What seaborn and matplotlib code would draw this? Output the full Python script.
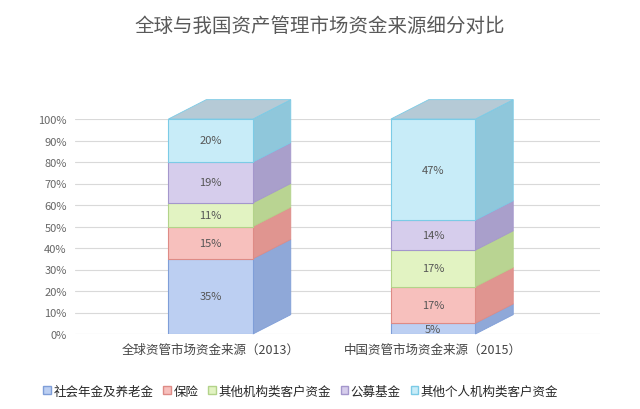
import matplotlib
matplotlib.use("Agg")
import matplotlib.pyplot as plt
import seaborn as sns
import pandas as pd

categories = ["全球资管市场资金来源（2013）", "中国资管市场资金来源（2015）"]
series = ["社会年金及养老金", "保险", "其他机构类客户资金", "公募基金", "其他个人机构类客户资金"]
global_vals = [35, 15, 11, 19, 20]
china_vals = [5, 17, 17, 14, 47]
colors = ["#bccff2", "#f7c0bd", "#e2f3c2", "#d6cdec", "#c8ecf8"]
edges = ["#7f9ed8", "#de8b86", "#b3d38a", "#a497cc", "#7ccbe6"]
sides = ["#8fa8d8", "#e09590", "#b9d492", "#a99fcb", "#8fc7db"]
DX, DY, W = 0.17, 0.09, 0.38

sns.set_theme(style="white")
plt.rcParams["font.family"] = ["Noto Sans CJK SC", "DejaVu Sans"]

fig = plt.figure(figsize=(6.4, 4.1), dpi=100)
ax = fig.add_axes([75 / 640, 75 / 410, 525 / 640, 215 / 410])

df = pd.DataFrame({"cat": categories * len(series),
                   "series": [s for s in series for _ in categories],
                   "val": [v for pair in zip(global_vals, china_vals) for v in pair]})

bottom = [0, 0]
for i, s in enumerate(series):
    sub = df[df["series"] == s]
    vals = [v / 100 for v in sub["val"]]
    sns.barplot(x=[0, 1], y=vals, bottom=bottom, color=colors[i], edgecolor=edges[i],
                linewidth=0.8, width=W, ax=ax, native_scale=True, saturation=1, zorder=3)
    for x, v, b in zip([0, 1], vals, bottom):
        r = x + W / 2
        ax.fill([r, r + DX, r + DX, r], [b, b + DY, b + v + DY, b + v],
                color=sides[i], ec=edges[i], lw=0.6, zorder=2, clip_on=False)
        ax.text(x, b + v / 2, f"{int(round(v * 100))}%", ha="center", va="center",
                fontsize=8, color="#555555", zorder=4)
    bottom = [b + v for b, v in zip(bottom, vals)]

# top faces
for x, b in zip([0, 1], bottom):
    l, r = x - W / 2, x + W / 2
    ax.fill([l, r, r + DX, l + DX], [b, b, b + DY, b + DY], color="#b5cad6",
            ec="#7ccbe6", lw=0.6, zorder=2, clip_on=False)

ax.set_xlim(-0.61, 1.75)
ax.set_ylim(0, 1.0)
ax.set_yticks([i / 10 for i in range(11)])
ax.set_yticklabels([f"{i * 10}%" for i in range(11)], fontsize=8, color="#666666")
ax.set_xticks([0, 1])
ax.set_xticklabels(categories, fontsize=9, color="#444444")
ax.tick_params(axis="both", length=0, pad=6)
ax.yaxis.grid(True, color="#d9d9d9", linewidth=0.8)
ax.set_axisbelow(True)
for sp in ax.spines.values():
    sp.set_visible(False)
ax.set_xlabel("")
ax.set_ylabel("")

fig.suptitle("全球与我国资产管理市场资金来源细分对比", y=0.96, fontsize=14, color="#595959")

handles = [plt.Rectangle((0, 0), 1, 1, facecolor=c, edgecolor=e) for c, e in zip(colors, edges)]
fig.legend(handles, series, loc="lower center", bbox_to_anchor=(0.47, 0.0), ncol=5,
           frameon=False, fontsize=9, handlelength=0.6, handleheight=0.6,
           handletextpad=0.2, columnspacing=0.8)

fig.savefig("out.png", dpi=100)
